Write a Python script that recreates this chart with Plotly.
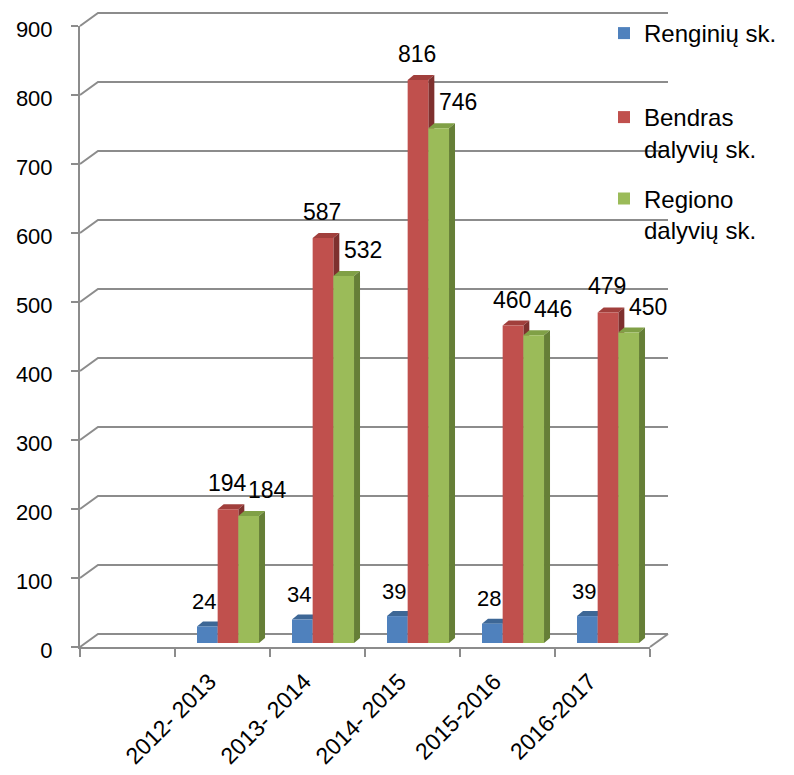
import plotly.graph_objects as go

# ---------------- data ----------------
categories = [" ", "2012- 2013", "2013- 2014", "2014- 2015", "2015-2016", "2016-2017"]
renginiu = [None, 24, 34, 39, 28, 39]
bendras = [None, 194, 587, 816, 460, 479]
regiono = [None, 184, 532, 746, 446, 450]
series_names = ["Renginių sk.", "Bendras<br>dalyvių sk.", "Regiono<br>dalyvių sk."]
y_ticks = [0, 100, 200, 300, 400, 500, 600, 700, 800, 900]

# ---------------- styling / geometry ----------------
FIG_W, FIG_H = 794, 775
PAGE = 8                      # browser body margin
L, R, T, B = 80 - PAGE, 650 - PAGE, 26 - PAGE, 647 - PAGE
W, H = R - L, B - T
YMAX = 900
N = len(categories)
SLOT = W / N
K = H / YMAX
BAR_DX, BAR_DY = 5.5, 4      # bar front plane offset from axis plane (px)
BACK_DX, BACK_DY = 18, 13    # back wall offset (px)
DEPTH_DX, DEPTH_DY = 6, 5    # bar depth (px)
BARGAP = 0.347
GRID = "#8c8c8c"
FONT = "Liberation Sans, Arial, sans-serif"

front = ["#4F81BD", "#C0504D", "#9BBB59"]
top_c = ["#3D6796", "#A13F3C", "#80A046"]
side_c = ["#2F527C", "#7E302E", "#667F37"]

series = [renginiu, bendras, regiono]
xs = list(range(N))
bw = (1 - BARGAP) / len(series)
ddx = DEPTH_DX / SLOT
ddy = DEPTH_DY / K

fig = go.Figure()

for k, vals in enumerate(series):
    fig.add_trace(go.Bar(
        x=xs, y=vals, name=series_names[k],
        marker=dict(color=front[k], line=dict(width=0)),
        legend="legend" if k == 0 else "legend2",
        legendgroup=str(k),
        xaxis="x", yaxis="y", hoverinfo="skip",
    ))

fig.add_trace(go.Scatter(x=categories, y=[0] * N, xaxis="x2", yaxis="y2",
                         mode="lines", line=dict(width=0), opacity=0,
                         showlegend=False, hoverinfo="skip"))

shapes = []
bx, by = BACK_DX / W, BACK_DY / H
for v in y_ticks:
    y0 = v / YMAX
    shapes.append(dict(type="path", xref="paper", yref="paper", layer="below",
                       path=f"M 0,{y0} L {bx},{y0 + by} L {1 + bx},{y0 + by}",
                       line=dict(color=GRID, width=2)))
shapes.append(dict(type="line", xref="paper", yref="paper", layer="below",
                   x0=1, y0=0, x1=1 + bx, y1=by, line=dict(color=GRID, width=2)))

for k, vals in enumerate(series):
    off = (k - (len(series) - 1) / 2) * bw
    for i, v in zip(xs, vals):
        if v is None:
            continue
        lft = i + off - bw / 2
        rgt = i + off + bw / 2
        shapes.append(dict(type="path", xref="x", yref="y", layer="below",
                           path=f"M {lft},{v} L {rgt},{v} L {rgt + ddx},{v + ddy} L {lft + ddx},{v + ddy} Z",
                           fillcolor=top_c[k], line=dict(width=0)))
        shapes.append(dict(type="path", xref="x", yref="y", layer="below",
                           path=f"M {rgt},0 L {rgt},{v} L {rgt + ddx},{v + ddy} L {rgt + ddx},{ddy} Z",
                           fillcolor=side_c[k], line=dict(width=0)))

annotations = []
label_cfg = [(22, -3, 25), (23, -1, 26), (23, 19, 26)]
for k, vals in enumerate(series):
    off = (k - (len(series) - 1) / 2) * bw
    size, xsh, ysh = label_cfg[k]
    for i, v in zip(xs, vals):
        if v is None:
            continue
        annotations.append(dict(x=i + off, y=v, xref="x", yref="y", text=str(v),
                                showarrow=False, xanchor="center", yanchor="middle",
                                xshift=xsh, yshift=ysh,
                                font=dict(family=FONT, size=size, color="black")))

x_off = BAR_DX / SLOT
y_off = BAR_DY / K

fig.update_layout(
    width=FIG_W, height=FIG_H,
    margin=dict(l=L, r=FIG_W - R, t=T, b=FIG_H - B, pad=0, autoexpand=False),
    paper_bgcolor="white", plot_bgcolor="rgba(0,0,0,0)",
    barmode="group", bargap=BARGAP, bargroupgap=0,
    xaxis=dict(range=[-0.5 - x_off, N - 0.5 - x_off], visible=False, fixedrange=True),
    yaxis=dict(range=[-y_off, YMAX - y_off], visible=False, fixedrange=True),
    xaxis2=dict(overlaying="x", anchor="y2", side="bottom", type="category",
                categoryorder="array", categoryarray=categories,
                range=[-0.5, N - 0.5], tickson="boundaries",
                ticks="outside", ticklen=8, tickcolor=GRID, tickwidth=2,
                showline=True, linecolor=GRID, linewidth=2, showgrid=False,
                zeroline=False, tickangle=-45, ticklabelstandoff=10, ticklabelshift=-13,
                tickfont=dict(family=FONT, size=23, color="black")),
    yaxis2=dict(overlaying="y", anchor="x2", side="left", range=[0, YMAX],
                tickvals=y_ticks, ticks="outside", ticklen=7, tickcolor=GRID,
                tickwidth=2, showline=True, linecolor=GRID, linewidth=2,
                showgrid=False, zeroline=False, ticklabelstandoff=14, ticklabelshift=3,
                tickfont=dict(family=FONT, size=22, color="black")),
    legend=dict(x=(604 - PAGE - L) / W, y=1 + (T + PAGE - 11) / H, xanchor="left", yanchor="top",
                font=dict(family=FONT, size=24, color="black"), bgcolor="rgba(0,0,0,0)",
                itemclick=False, itemdoubleclick=False),
    legend2=dict(x=(604 - PAGE - L) / W, y=1 - (95 - PAGE - T) / H, xanchor="left", yanchor="top",
                 font=dict(family=FONT, size=24, color="black"), bgcolor="rgba(0,0,0,0)",
                 valign="top", tracegroupgap=16,
                 itemclick=False, itemdoubleclick=False),
    shapes=shapes,
    annotations=annotations,
    showlegend=True,
)

fig.write_html("out.html")
